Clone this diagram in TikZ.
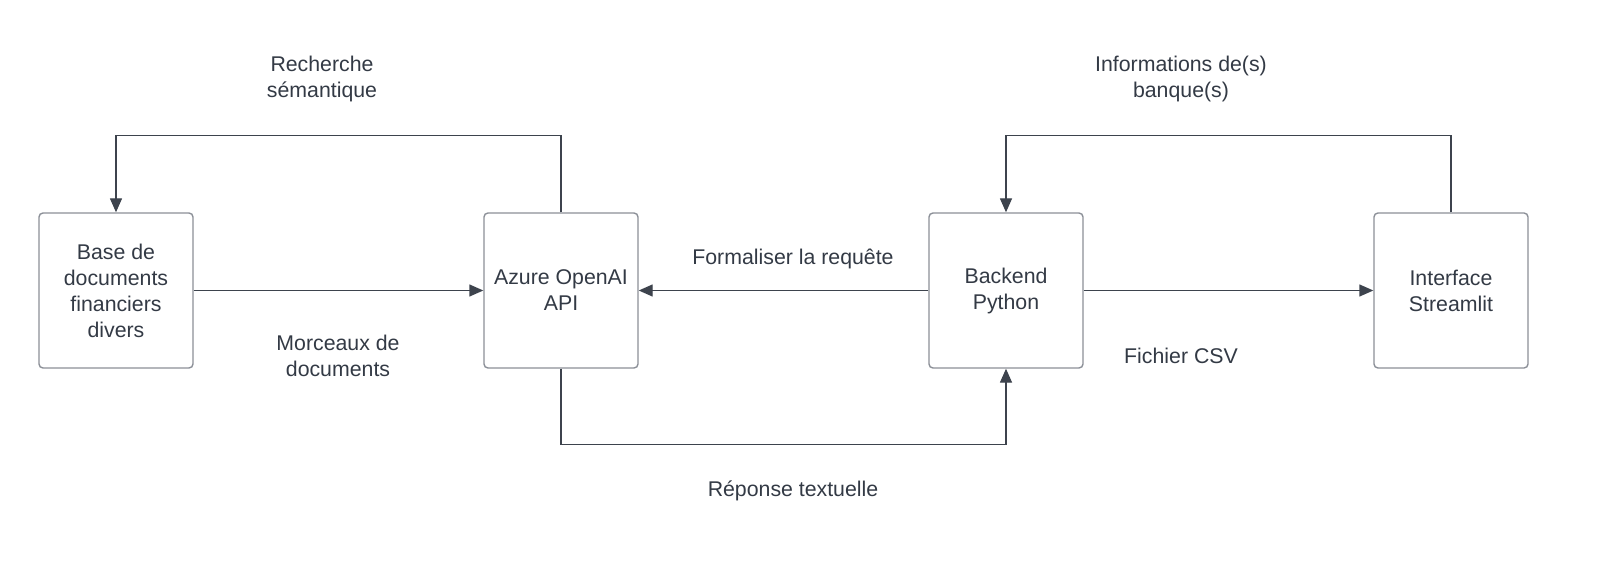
\documentclass[tikz,border=0pt]{standalone}
\usepackage{fontspec}
\setmainfont{Liberation Sans}
\usetikzlibrary{arrows.meta}
\definecolor{txt}{HTML}{333A45}
\definecolor{ln}{HTML}{3D434D}
\definecolor{bord}{HTML}{8C9098}
\begin{document}
\begin{tikzpicture}[x=1pt,y=-1pt,
  box/.style={draw=bord,line width=1.4pt,rounded corners=4pt,minimum width=154pt,minimum height=155pt,align=center,text=txt,font=\fontsize{21.3}{26}\selectfont,inner sep=0pt},
  lbl/.style={align=center,text=txt,font=\fontsize{21.3}{26}\selectfont,inner sep=0pt},
  arr/.style={draw=ln,line width=1.4pt,-{Triangle[length=14pt,width=12pt]}}]
\useasboundingbox[fill=white] (0,0) rectangle (1620,580);
\node[box] (b1) at (116,290.5) {Base de\\documents\\financiers\\divers};
\node[box] (b2) at (561,290.5) {Azure OpenAI\\API};
\node[box] (b3) at (1006,290.5) {Backend\\Python};
\node[box] (b4) at (1451,290.5) {Interface\\Streamlit};
\draw[arr] (b1.east) -- (b2.west);
\draw[arr] (b3.west) -- (b2.east);
\draw[arr] (b3.east) -- (b4.west);
\draw[arr] (b2.north) -- ++(0,-77) -| (b1.north);
\draw[arr] (b4.north) -- ++(0,-77) -| (b3.north);
\draw[arr] (b2.south) -- ++(0,76) -| (b3.south);
\node[lbl] (l1) at (322,79) {Recherche\\sémantique};
\node[lbl] (l2) at (1181,79) {Informations de(s)\\banque(s)};
\node[lbl] (l3) at (793,259) {Formaliser la requête};
\node[lbl] (l4) at (338,356) {Morceaux de\\documents};
\node[lbl] (l5) at (1181,356) {Fichier CSV};
\node[lbl] (l6) at (793,491) {Réponse textuelle};
\end{tikzpicture}
\end{document}
